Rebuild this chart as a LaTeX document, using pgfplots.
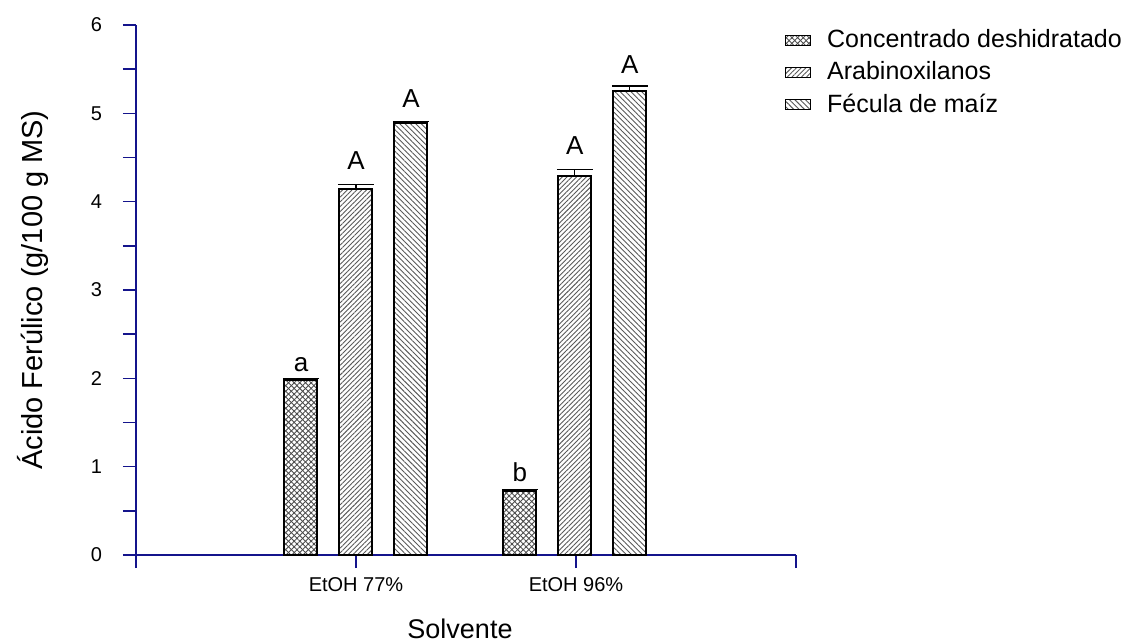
\documentclass[border=0pt]{standalone}
\usepackage{fontspec}
\setmainfont{Liberation Sans}
\usepackage{pgfplots}
\pgfplotsset{compat=1.18}
\usetikzlibrary{patterns,patterns.meta}
\definecolor{axblue}{RGB}{20,20,140}
\pgfplotsset{rectlegend/.style={legend image code/.code={\draw[##1, line width=0.5pt] (0pt,-2.5pt) rectangle (12.5pt,2.5pt);}}}

\begin{document}
\begin{tikzpicture}
\useasboundingbox (-68pt,-44pt) rectangle (495pt,277.5pt);
\begin{axis}[
  at={(0,0)}, anchor=south west,
  scale only axis, width=330pt, height=265pt,
  xmin=0, xmax=3, ymin=0, ymax=6,
  clip=false,
  axis x line*=bottom, axis y line*=left,
  axis line style={axblue, line width=0.8pt},
  xtick={0,1,2,3}, xticklabels={,EtOH 77\%,EtOH 96\%,},
  ytick={0,1,2,3,4,5,6}, minor ytick={0.5,1.5,2.5,3.5,4.5,5.5},
  tick style={axblue, line width=0.8pt},
  tick align=outside,
  major tick length=6.5pt, minor tick length=6.5pt,
  /pgf/number format/assume math mode=true,
  ticklabel style={font=\fontsize{10}{12}\selectfont},
  yticklabel style={xshift=-7pt},
  xticklabel style={yshift=-1pt},
  xlabel={Solvente},
  ylabel={Ácido Ferúlico (g/100 g MS)},
  xlabel style={font=\fontsize{13.5}{15}\selectfont, at={(axis description cs:0.5,0)}, anchor=north, inner sep=0pt, yshift=-32pt, xshift=-3pt},
  ylabel style={font=\fontsize{14.5}{16}\selectfont, at={(axis description cs:0,0.5)}, anchor=center, yshift=51.5pt},
  legend style={at={(rel axis cs:0.983,0.992)}, anchor=north west, draw=none, fill=none,
    inner sep=0pt, row sep=5.5pt, font=\fontsize{12.5}{15}\selectfont,
    nodes={inner sep=0pt}, /tikz/column sep=8pt},
  legend cell align=left,
]
\addplot[ybar, bar shift=0pt, bar width=0.15, draw=black, line width=1pt,
  pattern={Lines[angle=45,distance=2pt,line width=0.45pt]}, pattern color=black!70,
  postaction={pattern={Lines[angle=-45,distance=2pt,line width=0.45pt]}, pattern color=black!70},
  rectlegend,
  error bars/.cd, y dir=plus, y explicit,
  error bar style={black, line width=0.6pt},
  error mark options={black, line width=0.6pt, mark size=9pt, rotate=90}]
  coordinates {(0.75,1.98) +- (0,0.02) (1.745,0.725) +- (0,0.02)};
\addplot[ybar, bar shift=0pt, bar width=0.15, draw=black, line width=1pt,
  pattern={Lines[angle=45,distance=1.7pt,line width=0.45pt]}, pattern color=black!65,
  rectlegend,
  error bars/.cd, y dir=plus, y explicit,
  error bar style={black, line width=0.6pt},
  error mark options={black, line width=0.6pt, mark size=9pt, rotate=90}]
  coordinates {(1.0,4.14) +- (0,0.05) (1.995,4.295) +- (0,0.065)};
\addplot[ybar, bar shift=0pt, bar width=0.15, draw=black, line width=1pt,
  pattern={Lines[angle=-45,distance=1.9pt,line width=0.45pt]}, pattern color=black!65,
  rectlegend,
  error bars/.cd, y dir=plus, y explicit,
  error bar style={black, line width=0.6pt},
  error mark options={black, line width=0.6pt, mark size=9pt, rotate=90}]
  coordinates {(1.25,4.895) +- (0,0.01) (2.245,5.255) +- (0,0.055)};
\legend{Concentrado deshidratado, Arabinoxilanos, Fécula de maíz}
\node[font=\fontsize{13}{15}\selectfont, anchor=base] at (axis cs:0.75,2.08) {a};
\node[font=\fontsize{13}{15}\selectfont, anchor=base] at (axis cs:1.0,4.36) {A};
\node[font=\fontsize{13}{15}\selectfont, anchor=base] at (axis cs:1.25,5.07) {A};
\node[font=\fontsize{13}{15}\selectfont, anchor=base] at (axis cs:1.745,0.83) {b};
\node[font=\fontsize{13}{15}\selectfont, anchor=base] at (axis cs:1.995,4.53) {A};
\node[font=\fontsize{13}{15}\selectfont, anchor=base] at (axis cs:2.245,5.45) {A};
\end{axis}
\end{tikzpicture}
\end{document}
